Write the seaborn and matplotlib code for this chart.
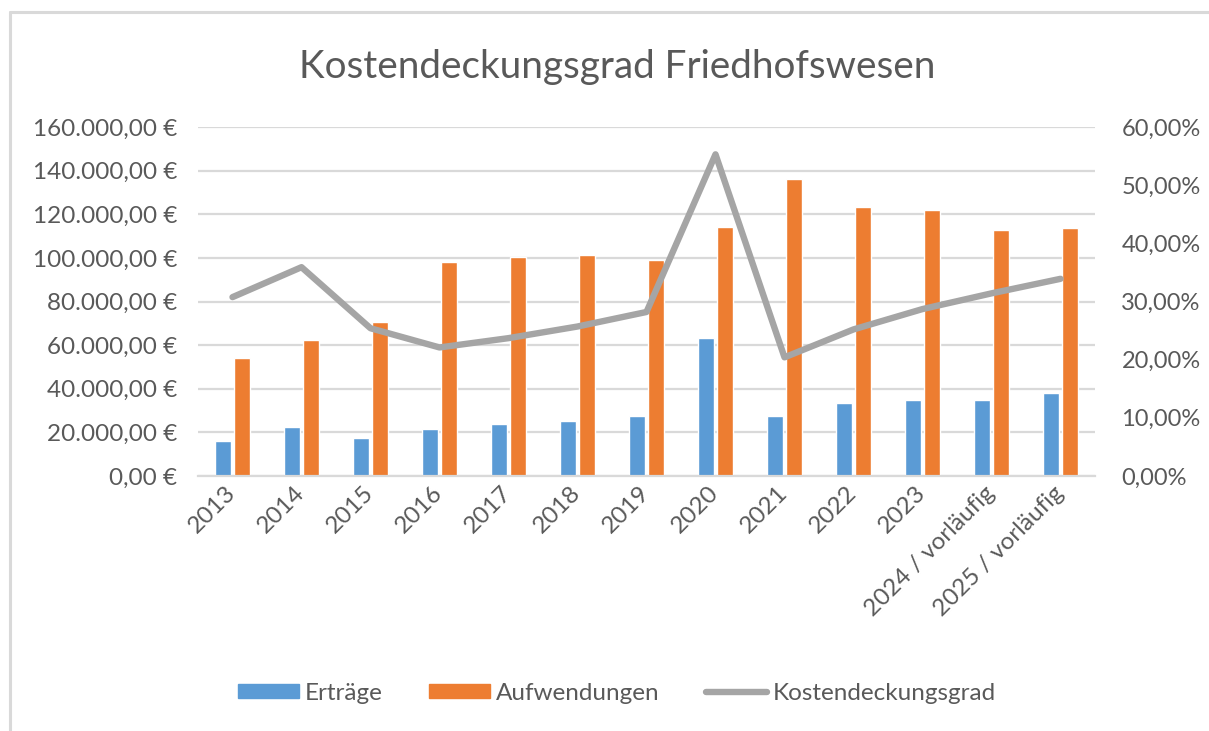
import matplotlib
matplotlib.use("Agg")
import matplotlib.pyplot as plt
import seaborn as sns
import pandas as pd
import numpy as np
from matplotlib.patches import Patch
from matplotlib.lines import Line2D
from matplotlib.ticker import FuncFormatter, MultipleLocator

# ---- data ----
years = ["2013", "2014", "2015", "2016", "2017", "2018", "2019", "2020",
         "2021", "2022", "2023", "2024 / vorläufig", "2025 / vorläufig"]
ertraege = [16200, 22500, 17600, 21700, 23900, 25200, 27400, 63200,
            27400, 33500, 34900, 34900, 38200]
aufwendungen = [54200, 62400, 70700, 98200, 100300, 101100, 99000, 114100,
                136100, 123100, 121800, 112700, 113500]
deckungsgrad = [0.3075, 0.359, 0.254, 0.221, 0.237, 0.257, 0.282, 0.553,
                0.204, 0.252, 0.287, 0.314, 0.339]
series_names = ["Erträge", "Aufwendungen", "Kostendeckungsgrad"]
title = "Kostendeckungsgrad Friedhofswesen"

# ---- style ----
sns.set_theme(style="white")
FONT = ["Lato", "DejaVu Sans"]
plt.rcParams["font.family"] = FONT
TXT = "#595959"
GRID = "#D9D9D9"
BLUE, ORANGE, GRAY = "#5B9BD5", "#ED7D31", "#A5A5A5"

W, H = 1209, 731
fig = plt.figure(figsize=(W / 100, H / 100), dpi=100)
fig.patch.set_facecolor("white")
ax = fig.add_axes([198 / W, 1 - 476 / H, (1095 - 198) / W, (476 - 127) / H])

df = pd.DataFrame({
    "Jahr": years * 2,
    "Wert": ertraege + aufwendungen,
    "Serie": [series_names[0]] * len(years) + [series_names[1]] * len(years),
})
sns.barplot(data=df, x="Jahr", y="Wert", hue="Serie", order=years,
            hue_order=series_names[:2], palette=[BLUE, ORANGE],
            width=0.53, gap=0.12, saturation=1, legend=False, ax=ax,
            errorbar=None, zorder=2)

ax.set_ylim(0, 160000)
ax.set_xlim(-0.5, len(years) - 0.5)
ax.yaxis.set_major_locator(MultipleLocator(20000))
ax.yaxis.set_major_formatter(FuncFormatter(
    lambda v, p: (f"{v:,.2f}".replace(",", "X").replace(".", ",").replace("X", ".") + " €")))
ax.grid(axis="y", color=GRID, linewidth=1.6, zorder=0)
ax.set_axisbelow(True)
for s in ["top", "right", "left"]:
    ax.spines[s].set_visible(False)
ax.spines["bottom"].set_color(GRID)
ax.spines["bottom"].set_linewidth(1.6)
ax.set_xlabel("")
ax.set_ylabel("")
ax.tick_params(axis="y", length=0, pad=15, labelsize=17.5, labelcolor=TXT)
ax.tick_params(axis="x", length=0, pad=10, labelsize=17.5, labelcolor=TXT)
for lab in ax.get_xticklabels():
    lab.set_rotation(45)
    lab.set_ha("right")
    lab.set_va("center")
    lab.set_rotation_mode("anchor")

ax2 = ax.twinx()
ax2.set_position(ax.get_position())
sns.lineplot(x=np.arange(len(years)), y=deckungsgrad, ax=ax2, color=GRAY,
             linewidth=4.6, solid_capstyle="round", solid_joinstyle="round",
             zorder=3)
ax2.set_ylim(0, 0.6)
ax2.yaxis.set_major_locator(MultipleLocator(0.1))
ax2.yaxis.set_major_formatter(FuncFormatter(lambda v, p: f"{v*100:.2f}%".replace(".", ",")))
for s in ax2.spines.values():
    s.set_visible(False)
ax2.tick_params(axis="y", length=0, pad=19, labelsize=17, labelcolor=TXT)
ax2.set_ylabel("")
ax2.grid(False)

fig.text(617 / W, 1 - 67 / H, title, ha="center", va="center",
         fontsize=27.8, color=TXT, family=FONT)

handles = [Patch(facecolor=BLUE, edgecolor=BLUE),
           Patch(facecolor=ORANGE, edgecolor=ORANGE),
           Line2D([0], [0], color=GRAY, linewidth=4.6, solid_capstyle="round")]
fig.legend(handles, series_names, loc="center", bbox_to_anchor=(617 / W, 1 - 693 / H),
           ncol=3, frameon=False, fontsize=17.5, labelcolor=TXT,
           handlelength=2.5, handleheight=0.55, handletextpad=0.25,
           columnspacing=1.9)

# chart frame (left and top edges)
fig.add_artist(Line2D([9.5 / W, 9.5 / W], [0, 1 - 12 / H], color=GRID, linewidth=2.2,
                      transform=fig.transFigure))
fig.add_artist(Line2D([9.5 / W, 1], [1 - 12 / H, 1 - 12 / H], color=GRID, linewidth=2.2,
                      transform=fig.transFigure))

fig.savefig("out.png", dpi=100)
